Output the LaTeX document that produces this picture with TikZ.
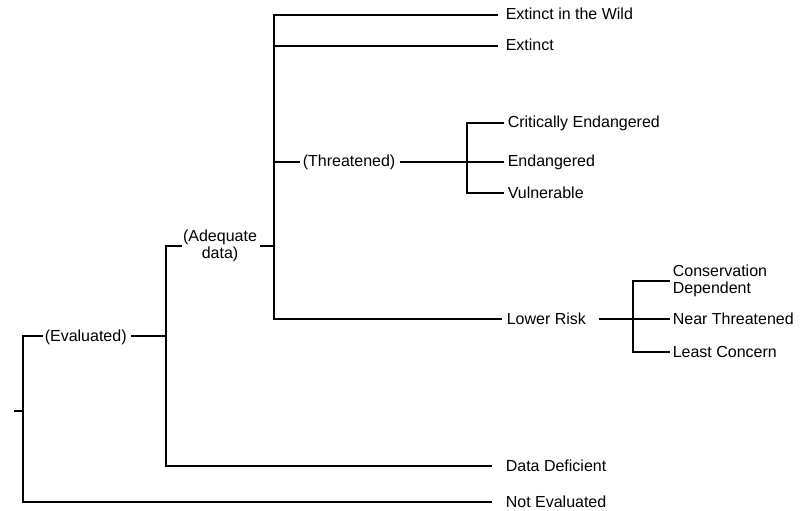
\documentclass[tikz,border=0pt]{standalone}
\usepackage{fontspec}
\setmainfont{Liberation Sans}
\usetikzlibrary{positioning}

\begin{document}
\begin{tikzpicture}[x=1pt, y=-1pt, line width=1.6pt,
    txt/.style={
    inner sep=0pt, % Text sits right at its anchor.
    text height=12pt,
    text depth=2pt,
    font=\fontsize{16}{17}\selectfont},
    leaf/.style={txt, anchor=west},
    twoline/.style={inner sep=0pt,
    font=\fontsize{16}{17}\selectfont}]

        \useasboundingbox (0,0) rectangle (807,511);

        % Nodes.
        \node[leaf] (ev) at (44,336) {(Evaluated)};
        \node[twoline, align=center] (ad) at (220,246) {(Adequate\\data)};
        \node[leaf] (ew) at (505,15) {Extinct in the Wild};
        \node[leaf] (ex) at (505,46) {Extinct};
        \node[leaf] (th) at (302,162) {(Threatened)};
        \node[leaf] (ce) at (507,123) {Critically Endangered};
        \node[leaf] (en) at (507,162) {Endangered};
        \node[leaf] (vu) at (507,193) {Vulnerable};
        \node[leaf] (lr) at (506,319) {Lower Risk};
        \node[twoline, anchor=west, align=left] (cd) at (672,281) {Conservation\\Dependent};
        \node[leaf] (nt) at (672,319) {Near Threatened};
        \node[leaf] (lc) at (672,352) {Least Concern};
        \node[leaf] (dd) at (505,466) {Data Deficient};
        \node[leaf] (ne) at (505,502) {Not Evaluated};

        % Spines.
        \coordinate (start) at (14,411);
        \coordinate (s0) at (23,411);
        \coordinate (s1) at (166,336);
        \coordinate (s2) at (274,246);
        \coordinate (s3) at (467,162);
        \coordinate (s4) at (633,319);

        % Root.
        \draw (start) -- (s0);
        \draw[shorten >=1pt] (s0) |- (ev.west);
        \draw[shorten >=13pt] (s0) |- (ne.west);

        % Evaluated.
        \draw[shorten <=4pt] (ev.east) -- (s1);
        \draw (s1) |- (ad.west);
        \draw[shorten >=13pt] (s1) |- (dd.west);

        % Adequate data.
        \draw[shorten <=2pt] (ad.east) -- (s2);
        \foreach \n in {ew, ex}
        \draw[shorten >=7pt] (s2) |- (\n.west);
        \draw[shorten >=2pt] (s2) |- (th.west);
        \draw[shorten >=4pt] (s2) |- (lr.west);

        % Threatened.
        \draw[shorten <=4pt] (th.east) -- (s3);
        \foreach \n in {ce, en, vu}
        \draw[shorten >=3pt] (s3) |- (\n.west);

        % Lower risk.
        \draw[shorten <=12pt] (lr.east) -- (s4);
        \foreach \n in {cd, nt, lc}
        \draw[shorten >=2pt] (s4) |- (\n.west);
    \end{tikzpicture}
\end{document}
